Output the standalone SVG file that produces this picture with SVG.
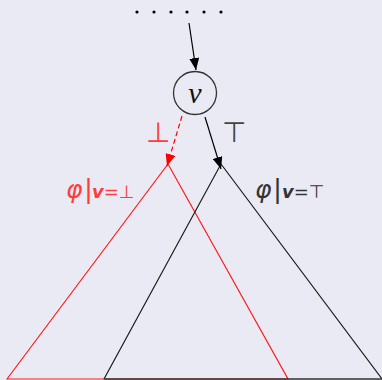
<svg xmlns="http://www.w3.org/2000/svg" width="382" height="380" viewBox="0 0 382 380">
<style>
.red{stroke:#ff1a1a;stroke-width:1.2;fill:none}
.blk{stroke:#1a1a1a;stroke-width:1.2;fill:none}
.sans{font-family:"DejaVu Sans","Liberation Sans",sans-serif}
.phi{font-family:"DejaVu Sans","Liberation Sans",sans-serif;font-style:italic;font-size:25px}
.bar{font-family:"Liberation Sans","DejaVu Sans",sans-serif;font-size:27px;font-weight:300}
.sm{font-family:"DejaVu Sans","Liberation Sans",sans-serif;font-size:18px}
.ser{font-family:"Liberation Serif","DejaVu Serif",serif;font-style:italic}
</style>
<defs>
<marker id="ab" viewBox="0 0 12 10" refX="12" refY="5" markerWidth="12" markerHeight="10" markerUnits="userSpaceOnUse" orient="auto"><path d="M0,0 L12,5 L0,10 Z" fill="#000"/></marker>
<marker id="ar" viewBox="0 0 12 10" refX="12" refY="5" markerWidth="12" markerHeight="10" markerUnits="userSpaceOnUse" orient="auto"><path d="M0,0 L12,5 L0,10 Z" fill="#ff0000"/></marker>
</defs>
<rect width="382" height="380" fill="#eaeaf5"/>
<g id="dots" fill="#000">
<circle cx="137" cy="12" r="1.6"/><circle cx="154" cy="12" r="1.6"/><circle cx="171" cy="12" r="1.6"/><circle cx="187" cy="12" r="1.6"/><circle cx="204" cy="12" r="1.6"/><circle cx="221" cy="12" r="1.6"/>
</g>
<g id="triangle-false">
<path class="red" d="M7,379 L168,164 L288,379 Z"/>
<text class="sans" x="146" y="142" font-size="28" fill="#ff3b3b">⊥</text>
<text y="198" fill="#ff3b3b"><tspan class="phi" x="66">φ</tspan><tspan class="bar" x="85">|</tspan><tspan class="sm" x="92" font-style="italic" font-weight="bold">v</tspan><tspan class="sm">=⊥</tspan></text>
</g>
<g id="triangle-true">
<path class="blk" d="M104,379 L221,164 L382,379"/>
<line x1="104" y1="379" x2="382" y2="379" stroke="#333" stroke-width="1.5"/>
<text class="sans" x="222" y="142" font-size="28" fill="#444">⊤</text>
<text y="198" fill="#333"><tspan class="phi" x="255">φ</tspan><tspan class="bar" x="274">|</tspan><tspan class="sm" x="282" font-style="italic" font-weight="bold">v</tspan><tspan class="sm">=⊤</tspan></text>
</g>
<g id="node-v">
<circle cx="195" cy="93" r="21.5" fill="none" stroke="#333" stroke-width="1.3"/>
<text class="ser" x="195" y="103" font-size="30" text-anchor="middle" fill="#111">v</text>
</g>
<g id="connectors">
<line x1="189" y1="23" x2="196" y2="70" stroke="#000" stroke-width="1.2" marker-end="url(#ab)"/>
<line x1="205" y1="117" x2="221" y2="169" stroke="#000" stroke-width="1.2" marker-end="url(#ab)"/>
<line x1="182" y1="116" x2="167" y2="166" stroke="#ff0000" stroke-width="1.2" stroke-dasharray="5,3" marker-end="url(#ar)"/>
</g>
</svg>
